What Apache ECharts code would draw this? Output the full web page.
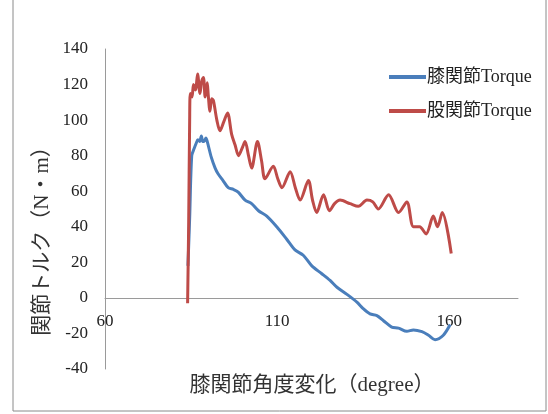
<!DOCTYPE html>
<html><head><meta charset="utf-8">
<script src="https://cdn.jsdelivr.net/npm/echarts@6/dist/echarts.min.js"></script>
<style>html,body{margin:0;padding:0;background:#fff}#c{width:548px;height:414px}</style>
</head><body><div id="c"></div>
<script>
const seriesNames = ['膝関節Torque', '股関節Torque'];
const xAxisTitle = '膝関節角度変化（degree）';
const yAxisTitle = '関節トルク（N・m）';
const kneeTorque = [[84.1,18],[84.6,45],[85.2,80],[85.9,84],[86.5,87],[87.0,89],[87.5,88],[88.0,91],[88.4,88],[88.8,88],[89.3,90],[89.7,88],[90.9,79],[92.0,73],[92.8,70],[94.3,66],[95.8,62],[97.3,61],[98.7,59.5],[100.7,55],[102.6,53],[104.6,49],[107.0,46],[109.9,40],[112.8,33],[115.2,27],[117.6,24],[120.1,18],[123.0,13.6],[125.4,9.8],[127.4,6],[130.3,2],[133.2,-2.4],[135.0,-6],[137.0,-9],[139.0,-10],[141.0,-13],[143.3,-16.4],[145.3,-17],[147.7,-18.8],[149.6,-18],[152.1,-19],[154.0,-21],[155.9,-23.5],[158.3,-21],[160.3,-15]];
const hipTorque = [[84.0,-3],[84.3,40],[84.6,100],[84.8,115],[85.3,113],[85.7,120],[86.3,117],[86.9,126],[87.6,115],[88.1,122],[88.6,124],[89.1,113],[89.7,121],[90.0,114],[90.5,105],[91.0,112],[91.5,111],[92.5,100],[93.4,94],[94.5,99],[95.6,104],[96.8,92],[97.8,86],[98.8,80],[100.0,85],[100.7,88],[101.7,80],[102.6,73],[104.3,88],[105.5,77],[106.5,67],[108.9,74],[110.2,67],[111.4,62],[113.8,71],[115.3,62],[116.7,55],[119.1,66],[120.3,55],[121.5,48],[123.5,58],[125.2,49],[126.7,53],[128.3,55],[131.2,53],[133.6,51.5],[136.1,55],[137.8,54],[139.4,50],[142.4,58],[145.3,48],[147.7,54],[149.6,40],[151.4,40],[153.3,36],[155.4,46],[156.6,40],[158.0,48],[160.6,25]];

const FONT = '"Liberation Serif", "DejaVu Serif", "Noto Sans CJK JP", serif';
const chart = echarts.init(document.getElementById('c'), null, {renderer: 'canvas'});
chart.setOption({
  animation: false,
  backgroundColor: '#fff',
  grid: {left: 105, right: 30, top: 49, bottom: 45, containLabel: false},
  legend: {
    left: 384, top: 63, orient: 'vertical', itemGap: 16,
    itemWidth: 37, itemHeight: 4,
    icon: 'rect',
    textStyle: {fontFamily: FONT, fontSize: 18, color: '#222', padding: [0, 0, 0, -4]},
    data: seriesNames
  },
  xAxis: {
    type: 'value', min: 60, max: 180, interval: 50,
    axisLine: {onZero: true, lineStyle: {color: '#9a9a9a', width: 1}},
    axisTick: {show: false},
    splitLine: {show: false},
    axisLabel: {showMaxLabel: false, margin: -56, fontFamily: FONT, fontSize: 17, color: '#222'}
  },
  yAxis: {
    type: 'value', min: -40, max: 140, interval: 20,
    axisLine: {show: true, lineStyle: {color: '#9a9a9a', width: 1}},
    axisTick: {show: false},
    splitLine: {show: false},
    axisLabel: {margin: 17, fontFamily: FONT, fontSize: 17, color: '#222'}
  },
  graphic: [
    {type: 'rect', shape: {x: 13, y: -5, width: 533, height: 416}, style: {fill: 'none', stroke: '#8a8a8a', lineWidth: 1}, silent: true},
    {type: 'text', x: 42, y: 236, rotation: Math.PI / 2, style: {text: yAxisTitle, font: '21px ' + FONT, fill: '#333', textAlign: 'center', textVerticalAlign: 'middle'}},
    {type: 'text', x: 312, y: 385, style: {text: xAxisTitle, font: '21px ' + FONT, fill: '#333', textAlign: 'center', textVerticalAlign: 'middle'}}
  ],
  series: [
    {name: seriesNames[0], type: 'line', data: kneeTorque, showSymbol: false, smooth: 0.3,
     lineStyle: {color: '#4a7ebb', width: 3}, itemStyle: {color: '#4a7ebb'}},
    {name: seriesNames[1], type: 'line', data: hipTorque, showSymbol: false, smooth: 0.3,
     lineStyle: {color: '#be4b48', width: 3}, itemStyle: {color: '#be4b48'}}
  ]
});
</script></body></html>
